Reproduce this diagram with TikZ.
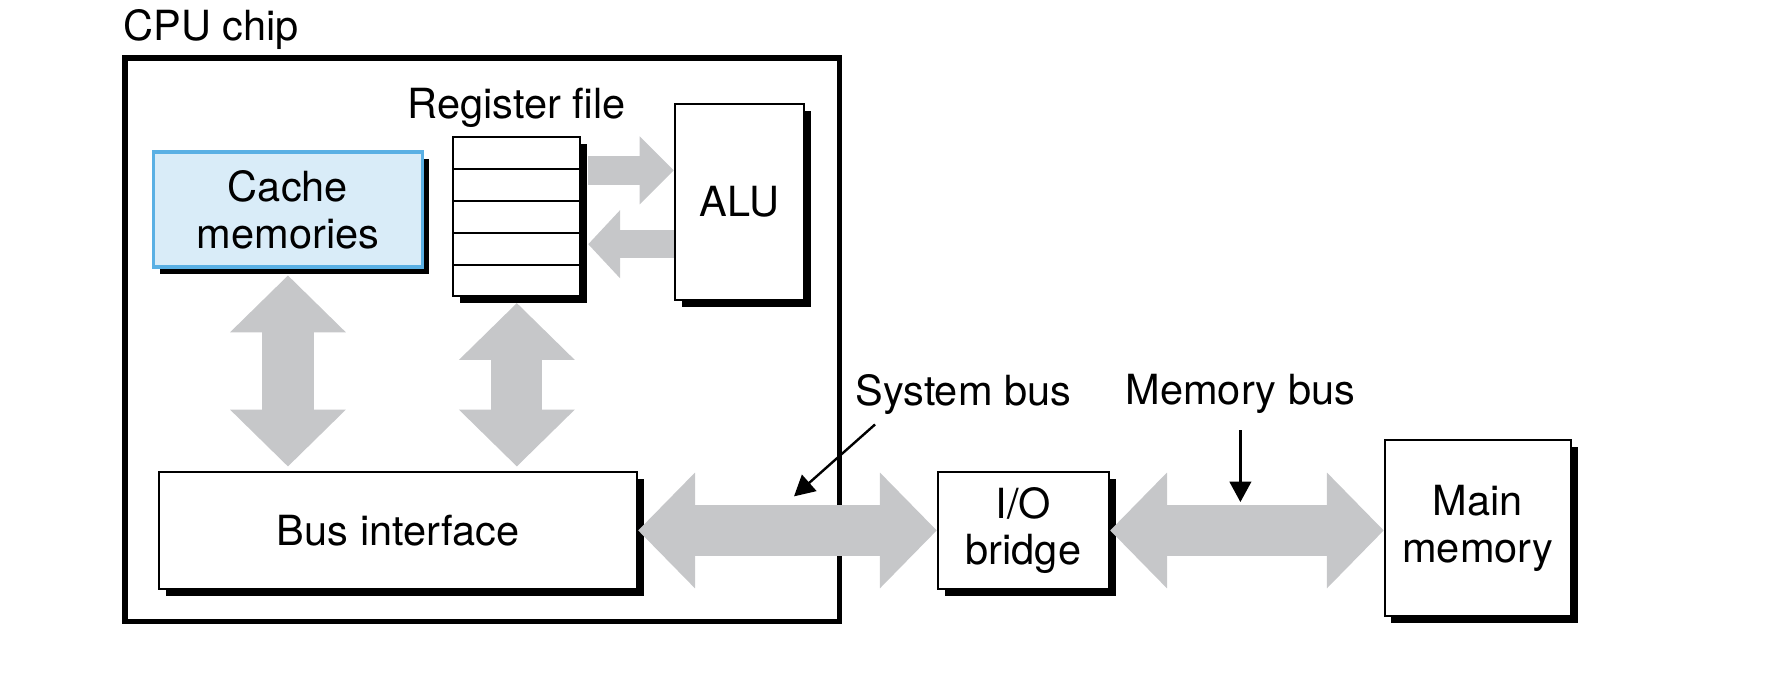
\documentclass[tikz,border=0pt]{standalone}
\usepackage{fontspec}
\setmainfont{TeX Gyre Heros}
\usetikzlibrary{arrows.meta,shadows,calc}
\definecolor{busgray}{RGB}{198,199,201}
\definecolor{cachefill}{RGB}{217,236,248}
\definecolor{cacheline}{RGB}{90,176,228}
\begin{document}
\begin{tikzpicture}[x=0.1mm,y=-0.1mm,
    every node/.style={font=\fontsize{10.4pt}{11.7pt}\selectfont},
    caption/.style={inner sep=0pt},
    unit/.style={draw,line width=0.5pt,fill=white,inner sep=0pt,align=center,
      drop shadow={shadow xshift=0.6mm,shadow yshift=-0.6mm,fill=black,opacity=1}},
    widebus/.style={draw=busgray,line width=4.5mm,
      {Triangle[length=5mm,width=10.2mm,line width=0pt]}-{Triangle[length=5mm,width=10.2mm,line width=0pt]}},
    thinbus/.style={draw=busgray,line width=2.5mm},
    pointer/.style={line width=0.6pt,-{Triangle[length=1.8mm,width=1.9mm]}}]
            \useasboundingbox (0,0) rectangle (1560,607);
            \node[draw,line width=1.4pt,minimum width=62.9mm,minimum height=49.6mm] (cpu) at (424.5,299) {};
            \node[caption,anchor=base west] (cpulabel) at (108,36) {CPU chip};
            \node[unit,fill=cachefill,draw=cacheline,line width=0.9pt,minimum width=23.7mm,minimum height=10.1mm] (cache) at (253.5,184.5) {Cache\\memories};
            \node[unit,minimum width=11.2mm,minimum height=14mm] (reg) at (455,191) {};
            \foreach \i in {1,...,4}
                \draw[line width=0.5pt] ($(reg.north west)!\i/5!(reg.south west)$) -- ($(reg.north east)!\i/5!(reg.south east)$);
            \node[caption,anchor=base] (reglabel) at (455,104) {Register file};
            \node[unit,minimum width=11.4mm,minimum height=17.2mm] (alu) at (651,178) {ALU};
            \node[unit,minimum width=42.1mm,minimum height=10.3mm] (iface) at (350.5,467) {Bus interface};
            \node[unit,minimum width=15.1mm,minimum height=10.3mm] (bridge) at (901,467) {I/O\\bridge};
            \node[unit,minimum width=16.4mm,minimum height=15.5mm] (mem) at (1301,465) {Main\\memory};
            \node[caption,anchor=base] (syslabel) at (848,357) {System bus};
            \node[caption,anchor=base] (memlabel) at (1092,356) {Memory bus};
            % register file <-> ALU
            \coordinate (toalu) at (0,150);
            \coordinate (fromalu) at (0,215);
            \draw[thinbus,shorten <=0.6mm,-{Triangle[length=3mm,width=6mm,line width=0pt]}] (reg.east |- toalu) -- (alu.west |- toalu);
            \draw[thinbus,shorten >=0.6mm,-{Triangle[length=2.8mm,width=6mm,line width=0pt]}] (alu.west |- fromalu) -- (reg.east |- fromalu);
            % buses
            \draw[widebus,shorten <=0.6mm,shorten >=0.4mm] (cache.south) -- (cache.south |- iface.north);
            \draw[widebus,shorten <=0.5mm,shorten >=0.4mm] (reg.south) -- (reg.south |- iface.north);
            \draw[widebus] (iface.east) -- (bridge.west);
            \draw[widebus] (bridge.east) -- (bridge.east -| mem.west);
            % labels
            \coordinate (systip) at (699,437);
            \coordinate (memtip) at (1092,442);
            \draw[pointer] (syslabel.south west) ++(18,8) -- (systip);
            \draw[pointer] (memlabel.south) ++(0,14) -- (memtip);
        \end{tikzpicture}
\end{document}
